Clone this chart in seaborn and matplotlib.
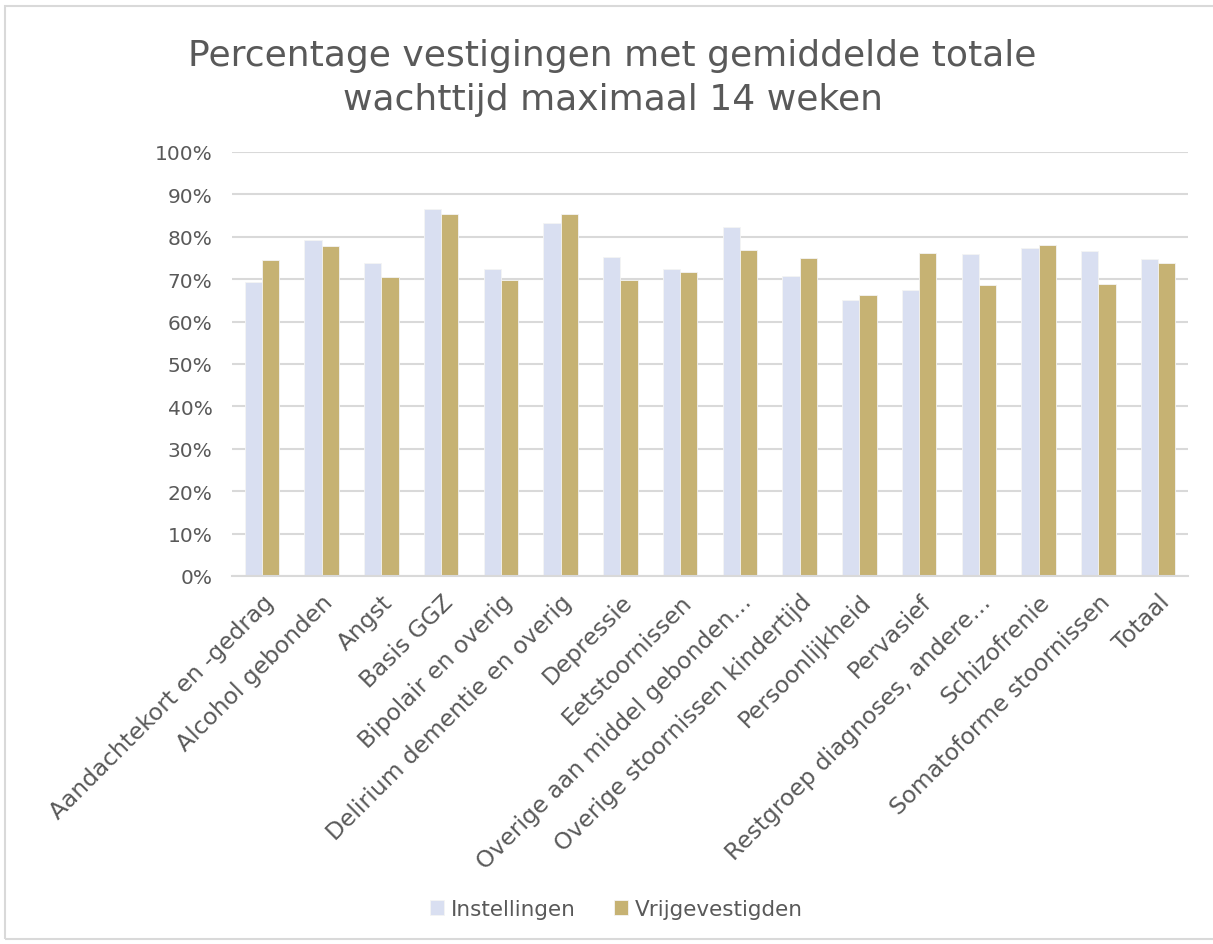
import numpy as np
import pandas as pd
import matplotlib
matplotlib.use("Agg")
import matplotlib.pyplot as plt
from matplotlib.patches import Rectangle
from matplotlib.ticker import PercentFormatter
import seaborn as sns

# data
categories = ["Aandachtekort en -gedrag", "Alcohol gebonden", "Angst", "Basis GGZ",
              "Bipolair en overig", "Delirium dementie en overig", "Depressie",
              "Eetstoornissen", "Overige aan middel gebonden…",
              "Overige stoornissen kindertijd", "Persoonlijkheid", "Pervasief",
              "Restgroep diagnoses, andere…", "Schizofrenie",
              "Somatoforme stoornissen", "Totaal"]
instellingen = [69.3, 79.3, 73.8, 86.6, 72.3, 83.3, 75.3, 72.3,
                82.3, 70.8, 65.0, 67.5, 76.0, 77.4, 76.6, 74.8]
vrijgevestigden = [74.5, 77.8, 70.5, 85.3, 69.9, 85.3, 69.9, 71.7,
                   76.9, 75.0, 66.3, 76.2, 68.6, 78.1, 68.9, 73.8]
series = ["Instellingen", "Vrijgevestigden"]
colors = ["#D9DFF1", "#C6B273"]
title = "Percentage vestigingen met gemiddelde totale\nwachttijd maximaal 14 weken"

df = pd.DataFrame({
    "Categorie": categories * 2,
    "Reeks": [series[0]] * len(categories) + [series[1]] * len(categories),
    "Waarde": instellingen + vrijgevestigden,
})

sns.set_style("white")
plt.rcParams['font.family'] = ['DejaVu Sans']
text_color = "#595959"

fig = plt.figure(figsize=(12.13, 9.45), dpi=100)
ax = fig.add_axes([232 / 1213, 1 - 577 / 945, 956 / 1213, 424 / 945])

sns.barplot(data=df, x="Categorie", y="Waarde", hue="Reeks", palette=colors,
            width=0.58, edgecolor="#F4F4F4", linewidth=0.6, ax=ax,
            legend=True, saturation=1)

ax.set_ylim(0, 100)
ax.set_yticks(np.arange(0, 101, 10))
ax.yaxis.set_major_formatter(PercentFormatter(decimals=0))
ax.set_xlim(-0.5, len(categories) - 0.5)
ax.grid(axis="y", color="#D9D9D9", linewidth=1.5)
ax.set_axisbelow(True)
for s in ["top", "right", "left"]:
    ax.spines[s].set_visible(False)
ax.spines["bottom"].set_color("#D9D9D9")
ax.spines["bottom"].set_linewidth(1.5)
ax.set_xlabel("")
ax.set_ylabel("")
ax.tick_params(axis="y", length=0, labelsize=14.5, labelcolor=text_color, pad=14)
ax.tick_params(axis="x", length=0, labelsize=16.8, labelcolor=text_color, pad=10)
plt.setp(ax.get_xticklabels(), rotation=45, ha="right", rotation_mode="anchor")

fig.text(0.505, 1 - 78 / 945, title, ha="center", va="center",
         fontsize=26, color=text_color, linespacing=1.4)

handles, labels = ax.get_legend_handles_labels()
ax.get_legend().remove()
fig.legend(handles, labels, loc="center", bbox_to_anchor=(0.508, 1 - 910 / 945),
           ncol=2, frameon=False, fontsize=15.5, labelcolor=text_color,
           handlelength=0.65, handleheight=0.65, handletextpad=0.3, columnspacing=1.8)

fig.patches.append(Rectangle((5 / 1213, 5 / 945), 1.2, 1 - 12 / 945,
                             transform=fig.transFigure, fill=False,
                             edgecolor="#D9D9D9", linewidth=1.5))

fig.savefig("out.png", dpi=100, facecolor="white")
